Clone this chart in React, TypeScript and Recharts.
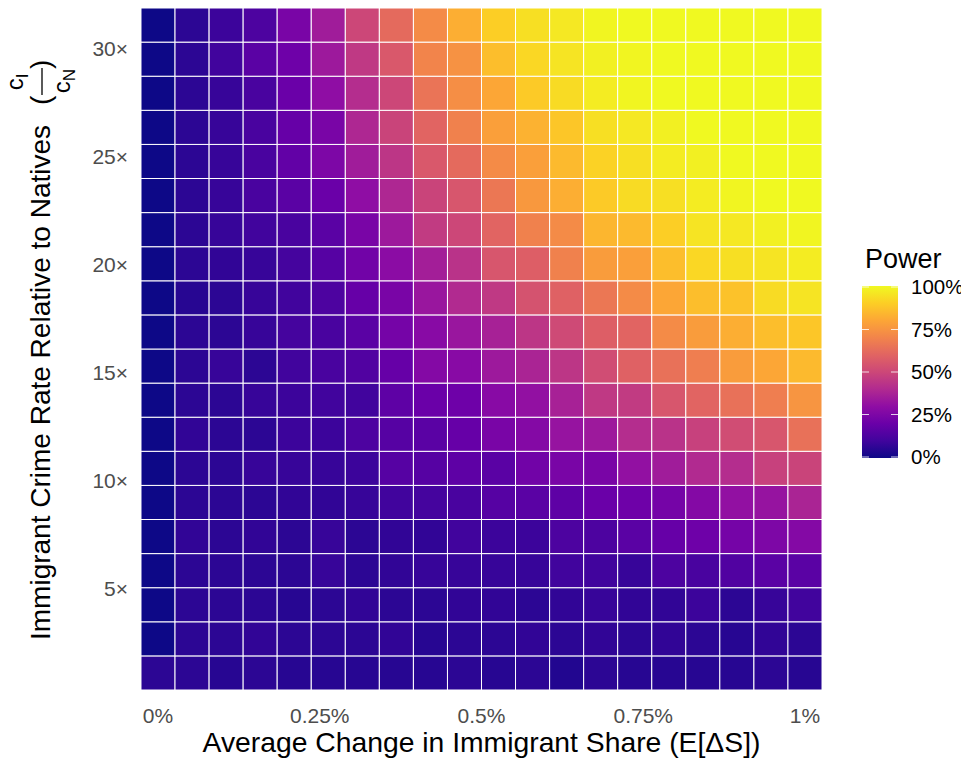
import { ScatterChart, Scatter, XAxis, YAxis } from 'recharts';

// share of immigrants change (percent), one column each
const shareLevels = [
  0, 0.0526, 0.1053, 0.1579, 0.2105, 0.2632, 0.3158, 0.3684, 0.4211, 0.4737,
  0.5263, 0.5789, 0.6316, 0.6842, 0.7368, 0.7895, 0.8421, 0.8947, 0.9474, 1,
];

// crime rate ratio c_I / c_N, one row each (bottom to top)
const ratioLevels = [
  1, 2.579, 4.158, 5.737, 7.316, 8.895, 10.474, 12.053, 13.632, 15.211,
  16.789, 18.368, 19.947, 21.526, 23.105, 24.684, 26.263, 27.842, 29.421, 31,
];

// power (%) per row, left to right
const row00 = [6, 6, 5, 6, 5, 5, 5, 5, 5, 6, 5, 6, 4, 6, 5, 5, 5, 5, 6, 5];
const row01 = [0, 6, 6, 7, 6, 6, 6, 7, 5, 6, 6, 7, 6, 7, 6, 7, 6, 5, 7, 6];
const row02 = [0, 6, 6, 6, 5, 6, 7, 6, 6, 7, 7, 6, 7, 8, 7, 7, 9, 6, 8, 10];
const row03 = [0, 6, 6, 6, 6, 8, 6, 7, 8, 8, 8, 8, 10, 10, 8, 13, 12, 14, 16, 16];
const row04 = [0, 7, 6, 7, 6, 8, 6, 7, 7, 10, 9, 9, 13, 13, 16, 19, 21, 23, 25, 27];
const row05 = [0, 6, 6, 6, 7, 7, 8, 10, 11, 12, 15, 16, 17, 20, 21, 23, 27, 31, 32, 38];
const row06 = [0, 6, 6, 8, 8, 8, 9, 15, 15, 17, 16, 22, 24, 24, 31, 35, 40, 41, 48, 49];
const row07 = [0, 7, 6, 6, 9, 9, 13, 15, 16, 19, 24, 27, 32, 34, 41, 43, 48, 52, 55, 64];
const row08 = [0, 6, 6, 8, 9, 10, 10, 17, 20, 21, 28, 31, 37, 45, 46, 55, 60, 64, 68, 75];
const row09 = [0, 6, 8, 6, 10, 12, 14, 19, 27, 28, 34, 38, 44, 52, 59, 64, 68, 77, 80, 85];
const row10 = [0, 6, 6, 8, 11, 12, 16, 23, 28, 33, 37, 44, 51, 58, 60, 72, 77, 82, 86, 88];
const row11 = [0, 5, 6, 8, 10, 13, 19, 24, 33, 40, 45, 54, 59, 66, 72, 80, 86, 87, 93, 95];
const row12 = [0, 6, 7, 8, 11, 15, 22, 29, 36, 43, 55, 58, 69, 77, 78, 86, 92, 94, 95, 97];
const row13 = [0, 6, 8, 10, 12, 16, 24, 34, 46, 50, 60, 69, 72, 84, 85, 90, 95, 96, 98, 99];
const row14 = [0, 6, 8, 12, 16, 20, 30, 39, 49, 55, 66, 76, 82, 89, 93, 94, 97, 99, 100, 100];
const row15 = [0, 6, 8, 12, 18, 25, 35, 44, 56, 62, 72, 78, 85, 91, 94, 97, 98, 100, 100, 100];
const row16 = [0, 6, 8, 12, 19, 24, 39, 49, 60, 69, 78, 83, 88, 94, 96, 98, 100, 100, 100, 100];
const row17 = [0, 6, 8, 12, 20, 30, 41, 50, 65, 73, 80, 89, 93, 97, 99, 100, 100, 100, 100, 100];
const row18 = [0, 6, 10, 16, 21, 34, 45, 56, 70, 74, 86, 92, 95, 98, 99, 100, 100, 100, 100, 100];
const row19 = [0, 6, 9, 13, 24, 35, 50, 62, 72, 82, 90, 94, 96, 99, 100, 100, 100, 100, 100, 100];

const powerRows = [
  row00, row01, row02, row03, row04, row05, row06, row07, row08, row09,
  row10, row11, row12, row13, row14, row15, row16, row17, row18, row19,
];

const xTicks = [0, 0.25, 0.5, 0.75, 1];
const xTickLabels = ['0%', '0.25%', '0.5%', '0.75%', '1%'];
const yTicks = [5, 10, 15, 20, 25, 30];
const legendTicks = [0, 25, 50, 75, 100];

// plasma colour map stops
const PLASMA = [
  '#0d0887', '#41049d', '#6a00a8', '#8f0da4', '#b12a90', '#cc4778',
  '#e16462', '#f2844b', '#fca636', '#fcce25', '#f0f921',
];

function hexToRgb(h: string) {
  return [1, 3, 5].map((i) => parseInt(h.slice(i, i + 2), 16));
}

function plasma(t: number) {
  const v = Math.max(0, Math.min(1, t)) * (PLASMA.length - 1);
  const i = Math.min(Math.floor(v), PLASMA.length - 2);
  const f = v - i;
  const a = hexToRgb(PLASMA[i]);
  const b = hexToRgb(PLASMA[i + 1]);
  const c = a.map((ai, k) => Math.round(ai + (b[k] - ai) * f));
  return `rgb(${c[0]},${c[1]},${c[2]})`;
}

const cells = ratioLevels.flatMap((ratio, r) =>
  shareLevels.map((share, c) => ({ share, ratio, power: powerRows[r][c] }))
);

const W = 953;
const H = 751;
const PLOT_LEFT = 133;
const PLOT_W = 681;
const PLOT_H = 682;
const CELL_W = PLOT_W / shareLevels.length;
const CELL_H = PLOT_H / ratioLevels.length;
const halfX = (shareLevels[1] - shareLevels[0]) / 2;
const halfY = (ratioLevels[1] - ratioLevels[0]) / 2;

const FONT = '"Liberation Sans", Arial, Helvetica, sans-serif';

const Tile = (props: any) => {
  const { cx, cy, payload } = props;
  return (
    <rect
      x={cx - CELL_W / 2}
      y={cy - CELL_H / 2}
      width={CELL_W}
      height={CELL_H}
      fill={plasma(payload.power / 100)}
      stroke="#ffffff"
      strokeWidth={1}
    />
  );
};

const XTick = (props: any) => {
  const { x, y, payload } = props;
  const idx = xTicks.indexOf(payload.value);
  return (
    <text x={x} y={y + 33} textAnchor="middle" fontSize={21} fill="#4d4d4d" fontFamily={FONT}>
      {xTickLabels[idx]}
    </text>
  );
};

const YTick = (props: any) => {
  const { x, y, payload } = props;
  return (
    <text x={x - 13} y={y + 2.5} dy="0.35em" textAnchor="end" fontSize={21} fill="#4d4d4d" fontFamily={FONT}>
      {`${payload.value}×`}
    </text>
  );
};

function Overlay() {
  const barTop = 278;
  const barBottom = 450;
  const t0 = 449;
  const t100 = 279;
  const ty = (v: number) => t0 + ((t100 - t0) * v) / 100;
  return (
    <svg
      width={W}
      height={H}
      style={{ position: 'absolute', left: 0, top: 0, overflow: 'visible', pointerEvents: 'none' }}
      fontFamily={FONT}
    >
      <defs>
        <linearGradient id="plasmaBar" x1="0" y1="1" x2="0" y2="0">
          {PLASMA.map((col, i) => (
            <stop key={i} offset={`${(i / (PLASMA.length - 1)) * 100}%`} stopColor={col} />
          ))}
        </linearGradient>
      </defs>

      {/* x title */}
      <text x={PLOT_LEFT + PLOT_W / 2} y={744} textAnchor="middle" fontSize={28.3} fill="#000">
        Average Change in Immigrant Share (E[ΔS])
      </text>

      {/* y title, rotated */}
      <g transform="rotate(-90)" fill="#000">
        <text x={-632} y={42} fontSize={28}>
          Immigrant Crime Rate Relative to Natives
        </text>
        <text x={-97} y={42} fontSize={28}>(</text>
        <text x={-74} y={15} fontSize={24} textAnchor="middle">
          c<tspan fontSize={17} dy={5}>I</tspan>
        </text>
        <line x1={-87} x2={-60} y1={34} y2={34} stroke="#000" strokeWidth={1.3} />
        <text x={-73} y={61.5} fontSize={24} textAnchor="middle">
          c<tspan fontSize={17} dy={5}>N</tspan>
        </text>
        <text x={-61} y={42} fontSize={28}>)</text>
      </g>

      {/* legend */}
      <text x={857} y={260} fontSize={27} fill="#000">
        Power
      </text>
      <rect x={854} y={barTop} width={36} height={barBottom - barTop} fill="url(#plasmaBar)" />
      {legendTicks.map((v) => (
        <g key={v}>
          <line x1={854} x2={861} y1={ty(v)} y2={ty(v)} stroke="#fff" strokeOpacity={0.8} strokeWidth={1} />
          <line x1={883} x2={890} y1={ty(v)} y2={ty(v)} stroke="#fff" strokeOpacity={0.8} strokeWidth={1} />
          <text x={903} y={ty(v)} dy="0.35em" fontSize={20.5} fill="#000">
            {`${v}%`}
          </text>
        </g>
      ))}
    </svg>
  );
}

export default function App() {
  return (
    <div style={{ position: 'relative', width: W, height: H, fontFamily: FONT }}>
      <ScatterChart
        width={W}
        height={H}
        margin={{ top: 0, right: W - PLOT_LEFT - PLOT_W, bottom: H - PLOT_H - 50, left: PLOT_LEFT - 60 }}
      >
        <XAxis
          type="number"
          dataKey="share"
          domain={[shareLevels[0] - halfX, shareLevels[shareLevels.length - 1] + halfX]}
          ticks={xTicks}
          tick={<XTick />}
          axisLine={false}
          tickLine={false}
          tickSize={0}
          tickMargin={0}
          height={50}
          allowDataOverflow
          interval={0}
        />
        <YAxis
          type="number"
          dataKey="ratio"
          domain={[ratioLevels[0] - halfY, ratioLevels[ratioLevels.length - 1] + halfY]}
          ticks={yTicks}
          tick={<YTick />}
          axisLine={false}
          tickLine={false}
          tickSize={0}
          tickMargin={0}
          width={60}
          allowDataOverflow
          interval={0}
        />
        <Scatter data={cells} shape={<Tile />} isAnimationActive={false} />
      </ScatterChart>
      <Overlay />
    </div>
  );
}
